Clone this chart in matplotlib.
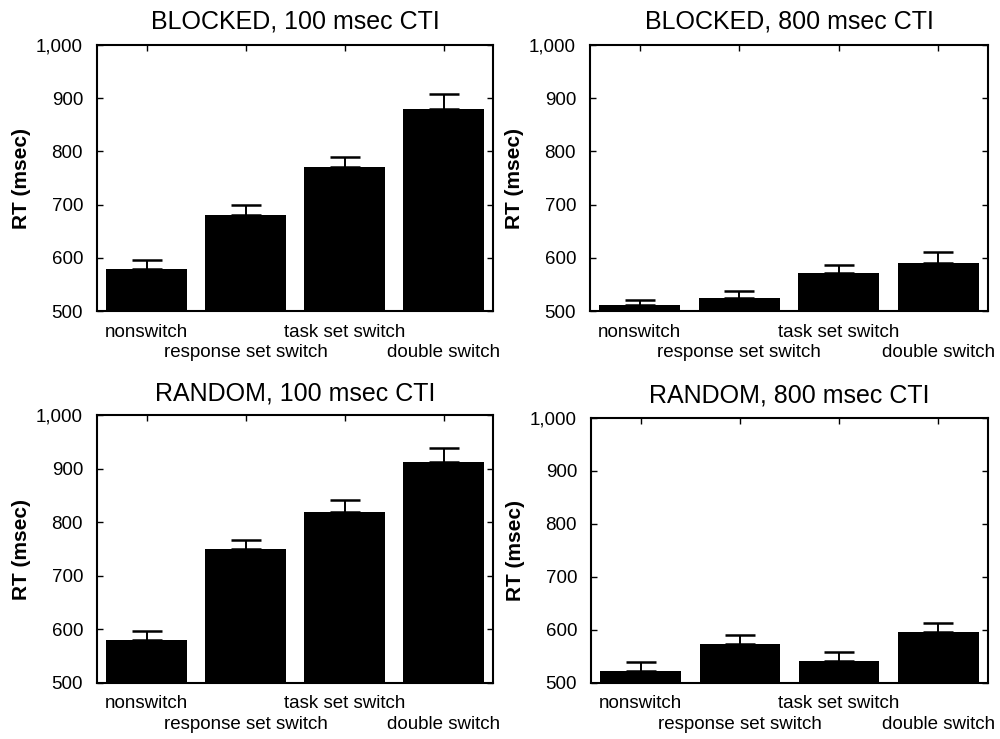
import numpy as np
import matplotlib.pyplot as plt
from matplotlib.ticker import FuncFormatter

plt.rcParams['font.family'] = ['Liberation Sans', 'DejaVu Sans']

conditions = ["nonswitch", "response set switch", "task set switch", "double switch"]
titles = ["BLOCKED, 100 msec CTI", "BLOCKED, 800 msec CTI",
          "RANDOM, 100 msec CTI", "RANDOM, 800 msec CTI"]

# mean RT and upper error (bar top + error) per panel
blocked_100 = [580, 680, 770, 880]
blocked_100_err = [16, 19, 20, 28]
blocked_800 = [511, 524, 572, 590]
blocked_800_err = [9, 14, 14, 21]
random_100 = [580, 750, 820, 913]
random_100_err = [16, 17, 21, 25]
random_800 = [522, 573, 541, 596]
random_800_err = [18, 18, 18, 17]

means = [blocked_100, blocked_800, random_100, random_800]
errs = [blocked_100_err, blocked_800_err, random_100_err, random_800_err]

fig = plt.figure(figsize=(10, 7.39), dpi=100)
positions = [
    [0.097, 0.579, 0.396, 0.360],
    [0.590, 0.579, 0.398, 0.360],
    [0.097, 0.076, 0.396, 0.362],
    [0.591, 0.076, 0.397, 0.359],
]
title_pads = [12, 12, 11, 11]

x = np.arange(len(conditions))

for pos, title, m, e, tp in zip(positions, titles, means, errs, title_pads):
    ax = fig.add_axes(pos)
    base = np.array(m) - 500
    ax.bar(x, base, bottom=500, width=0.81, color='black')
    ax.errorbar(x, m, yerr=[np.zeros(4), e], fmt='none', ecolor='black',
                elinewidth=1.4, capsize=11, capthick=1.8)
    ax.set_xlim(-0.5, 3.5)
    ax.set_ylim(500, 1000)
    ax.set_yticks(np.arange(500, 1001, 100))
    ax.yaxis.set_major_formatter(FuncFormatter(lambda v, p: f"{int(v):,}"))
    ax.set_xticks(x)
    ax.set_xticklabels(conditions, fontsize=13.5)
    ax.tick_params(axis='y', labelsize=13.5, direction='in', right=True,
                   length=4, width=1, pad=10)
    ax.tick_params(axis='x', direction='in', top=True, length=4, width=1)
    # staggered labels: every second one on a lower line
    for i, tk in enumerate(ax.xaxis.get_major_ticks()):
        tk.set_pad(9 if i % 2 == 0 else 24)
    for s in ax.spines.values():
        s.set_linewidth(1.5)
    ax.set_ylabel("RT (msec)", fontsize=15, fontweight='bold', labelpad=4)
    ax.set_title(title, fontsize=18, pad=tp)

fig.savefig("out.png", dpi=100)
